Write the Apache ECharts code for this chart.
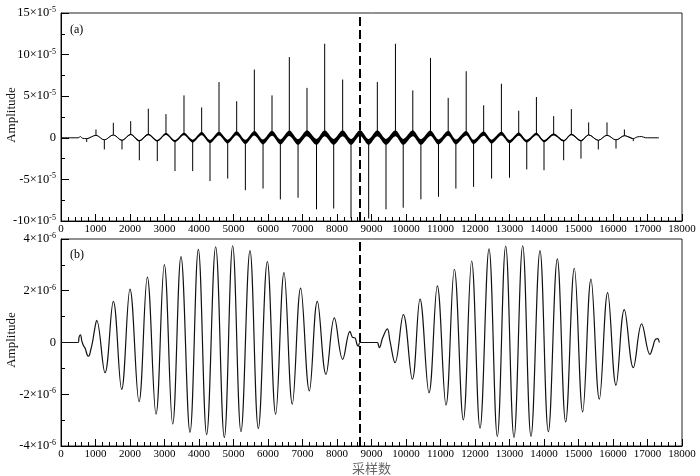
<!DOCTYPE html>
<html><head><meta charset="utf-8">
<script src="https://cdn.jsdelivr.net/npm/echarts@6/dist/echarts.min.js"></script>
<style>html,body{margin:0;padding:0;background:#fff}#c{width:700px;height:476px}</style>
</head><body><div id="c"></div>
<script>
// ---- axis ticks ----
const xTicks = [0,1000,2000,3000,4000,5000,6000,7000,8000,9000,10000,11000,12000,13000,14000,15000,16000,17000,18000];
const topYTicks = [-10,-5,0,5,10,15];   // ×10^-5
const botYTicks = [-4,-2,0,2,4];        // ×10^-6
const centerX = 8667;

// ---- panel (a): values in units of 1e-5 ----
const upX = [1014,1517,2020,2531,3043,3565,4077,4580,5092,5604,6116,6618,7130,7643,8164,9169,9694,10197,10710,11223,11745,12251,12765,13267,13780,14280,14793,15294,15826,16330];
const upSpike = [1.0,1.8,2.0,3.5,2.85,5.1,3.65,6.7,4.4,8.2,5.1,9.7,6.0,11.3,7.0,6.7,11.3,5.7,9.6,4.8,8.0,3.9,6.5,3.25,4.9,2.6,3.45,1.85,1.85,1.0];
const upBase = [0.3,0.35,0.4,0.4,0.45,0.45,0.5,0.5,0.55,0.55,0.55,0.55,0.55,0.55,0.55,0.55,0.55,0.55,0.55,0.55,0.55,0.5,0.5,0.45,0.45,0.4,0.4,0.35,0.3,0.25];
const upNoise = [0.02,0.03,0.05,0.1,0.12,0.15,0.2,0.22,0.25,0.28,0.3,0.32,0.35,0.35,0.35,0.35,0.35,0.35,0.32,0.3,0.28,0.25,0.22,0.2,0.15,0.12,0.1,0.05,0.03,0.02];
const downX = [745,1256,1768,2270,2791,3304,3817,4319,4832,5344,5856,6358,6871,7406,7904,8406,8918,9420,9919,10432,10942,11446,11959,12481,13000,13500,14000,14570,15072,15574,16087,16588];
const downSpike = [-0.5,-1.4,-1.4,-2.7,-2.8,-4.0,-4.0,-5.2,-4.9,-6.3,-6.1,-7.4,-7.2,-8.6,-8.5,-9.7,-9.7,-8.6,-8.4,-7.4,-7.1,-6.1,-5.9,-4.9,-4.8,-3.8,-3.9,-2.7,-2.5,-1.4,-1.3,-0.4];
const downBase = [-0.1,-0.25,-0.3,-0.35,-0.35,-0.4,-0.4,-0.45,-0.45,-0.5,-0.5,-0.5,-0.5,-0.5,-0.5,-0.5,-0.5,-0.5,-0.5,-0.5,-0.5,-0.5,-0.5,-0.45,-0.45,-0.4,-0.4,-0.35,-0.35,-0.3,-0.25,-0.1];
const downNoise = [0.02,0.02,0.04,0.08,0.1,0.13,0.17,0.2,0.23,0.26,0.3,0.3,0.33,0.35,0.35,0.35,0.35,0.35,0.35,0.33,0.3,0.3,0.26,0.23,0.2,0.17,0.13,0.1,0.08,0.04,0.02,0.02];
const centerBase = 0.6, centerNoise = 0.35;
const headX = [0,500,560,620];
const headY = [0,0,0.15,-0.05];
const tailX = [16700,16830,16950,17333];
const tailY = [0.1,0.15,0.0,0.0];

// ---- panel (b): values in units of 1e-6 ----
const waveX = [0,500,525,565,605,650,700,760,800,860,925,980,1034,1275,1517,1758,2000,2261,2502,2754,2995,3237,3478,3739,3981,4222,4483,4734,4976,5217,5478,5720,5981,6222,6464,6705,6946,7198,7430,7681,7923,8164,8377,8450,8522,8580,8618,8667,
  9169,9200,9227,9323,9459,9536,9681,9923,10184,10406,10667,10908,11159,11401,11662,11903,12145,12406,12647,12889,13130,13382,13623,13884,14126,14386,14628,14879,15121,15362,15604,15845,16087,16328,16589,16831,17072,17150,17217,17290,17343];
const waveY = [0,0,0.22,0.3,0.05,-0.12,-0.22,-0.48,-0.53,-0.3,0.1,0.55,0.86,-1.17,1.59,-1.81,2.06,-2.29,2.53,-2.77,3.01,-3.15,3.32,-3.47,3.6,-3.56,3.7,-3.67,3.74,-3.45,3.55,-3.32,3.13,-2.77,2.7,-2.38,2.1,-1.87,1.59,-1.23,0.95,-0.65,0.43,0.2,0.18,-0.08,-0.14,0,
  0,-0.1,-0.2,0.18,0.53,0.05,-0.78,1.08,-1.42,1.68,-1.94,2.19,-2.42,2.83,-2.99,3.15,-3.31,3.62,-3.63,3.73,-3.67,3.74,-3.63,3.55,-3.45,3.23,-3.07,2.87,-2.68,2.45,-2.19,1.93,-1.65,1.27,-0.97,0.72,-0.46,-0.2,0.1,0.15,0.0];

// ---- build panel (a) series from the arrays ----
const events = [];
upX.forEach((x,i)=>events.push({x, base: upBase[i], spike: upSpike[i], noise: upNoise[i]}));
downX.forEach((x,i)=>events.push({x, base: downBase[i], spike: downSpike[i], noise: downNoise[i]}));
events.push({x: centerX, base: centerBase, spike: null, noise: centerNoise});
events.sort((a,b)=>a.x-b.x);
const baseLine = [];
headX.forEach((x,i)=>baseLine.push([x, headY[i]]));
events.forEach(e=>baseLine.push([e.x, e.base]));
tailX.forEach((x,i)=>baseLine.push([x, tailY[i]]));
const spikeLine = [];
events.forEach(e=>{
  if (e.spike !== null) { spikeLine.push([e.x, e.base]); spikeLine.push([e.x, e.spike]); spikeLine.push([e.x, null]); }
});
const bandPts = events.map(e=>[e.x, e.base, e.noise]);

const waveData = waveX.map((x,i)=>[x, waveY[i]]);

const serif = 'Liberation Serif, Times New Roman, serif';
function yFmt(exp){
  return v => v === 0 ? '0' : '{n|' + v + '×10}{s|' + exp + '}';
}
function xAxisCfg(gi){
  return {
    gridIndex: gi, type: 'value', min: 0, max: 18000, interval: 1000,
    axisLine: {show: true, onZero: false, lineStyle: {color: '#000', width: 1}},
    axisTick: {show: true, inside: true, length: 7, lineStyle: {color: '#000'}},
    minorTick: {show: true, splitNumber: 5, length: 4, lineStyle: {color: '#000'}},
    splitLine: {show: false}, minorSplitLine: {show: false},
    axisLabel: {fontFamily: serif, fontSize: 11, color: '#000', margin: 3, hideOverlap: false,
      showMinLabel: true, showMaxLabel: true, formatter: v => String(v)},
    name: gi === 1 ? '采样数' : '', nameLocation: 'middle', nameGap: 16,
    nameTextStyle: {fontFamily: 'Noto Sans CJK SC', fontSize: 13, color: '#666', verticalAlign: 'top'}
  };
}
function yAxisCfg(gi, min, max, interval, exp){
  return {
    gridIndex: gi, type: 'value', min, max, interval,
    axisLine: {show: true, onZero: false, lineStyle: {color: '#000'}},
    axisTick: {show: true, inside: true, length: 8, lineStyle: {color: '#000'}},
    minorTick: {show: true, splitNumber: 2, length: 4, lineStyle: {color: '#000'}},
    splitLine: {show: false}, minorSplitLine: {show: false},
    axisLabel: {margin: 5, color: '#000', fontFamily: serif, fontSize: 12.5, formatter: yFmt(exp),
      rich: {
        n: {fontFamily: serif, fontSize: 12.5, color: '#000', lineHeight: 14},
        s: {fontFamily: serif, fontSize: 8, color: '#000', lineHeight: 8, verticalAlign: 'top'}
      }}
  };
}
const dashLine = {
  silent: true, symbol: 'none', label: {show: false},
  lineStyle: {type: [9,4], color: '#000', width: 2},
  data: [{xAxis: centerX}], animation: false
};

const chart = echarts.init(document.getElementById('c'), null, {renderer: 'canvas'});
chart.setOption({
  animation: false,
  backgroundColor: '#fff',
  grid: [
    {left: 61, width: 621, top: 13, height: 208, show: true, borderColor: '#222', borderWidth: 1, backgroundColor: 'transparent'},
    {left: 61, width: 621, top: 239, height: 208, show: true, borderColor: '#222', borderWidth: 1, backgroundColor: 'transparent'}
  ],
  xAxis: [xAxisCfg(0), xAxisCfg(1)],
  yAxis: [yAxisCfg(0, -10, 15, 5, '-5'), yAxisCfg(1, -4, 4, 2, '-6')],
  graphic: [
    {type: 'text', x: 70, y: 30, style: {text: '(a)', font: '12px ' + serif, fill: '#000', align: 'left', verticalAlign: 'middle', textAlign: 'left', textVerticalAlign: 'middle'}},
    {type: 'text', x: 70, y: 255, style: {text: '(b)', font: '12px ' + serif, fill: '#000', align: 'left', verticalAlign: 'middle', textAlign: 'left', textVerticalAlign: 'middle'}},
    {type: 'text', x: 12, y: 115, rotation: Math.PI/2, style: {text: 'Amplitude', font: '13px ' + serif, fill: '#111', align: 'center', verticalAlign: 'middle', textAlign: 'center', textVerticalAlign: 'middle'}},
    {type: 'text', x: 12, y: 340, rotation: Math.PI/2, style: {text: 'Amplitude', font: '13px ' + serif, fill: '#111', align: 'center', verticalAlign: 'middle', textAlign: 'center', textVerticalAlign: 'middle'}}
  ],
  series: [
    {
      type: 'custom', xAxisIndex: 0, yAxisIndex: 0, silent: true,
      data: [[centerX, 0]],
      renderItem: function(params, api){
        const upper = bandPts.map(p => api.coord([p[0], p[1] + p[2]]));
        const lower = bandPts.slice().reverse().map(p => api.coord([p[0], p[1] - p[2]]));
        return {type: 'polygon', shape: {points: upper.concat(lower), smooth: 0.3}, style: {fill: '#000'}};
      }
    },
    {
      type: 'line', xAxisIndex: 0, yAxisIndex: 0, data: baseLine, smooth: 0.35,
      showSymbol: false, symbol: 'none', lineStyle: {color: '#000', width: 1}, silent: true,
      markLine: dashLine
    },
    {
      type: 'line', xAxisIndex: 0, yAxisIndex: 0, data: spikeLine, connectNulls: false,
      showSymbol: false, symbol: 'none', lineStyle: {color: '#000', width: 1}, silent: true
    },
    {
      type: 'line', xAxisIndex: 1, yAxisIndex: 1, data: waveData,
      showSymbol: false, symbol: 'none', smooth: 0.4, lineStyle: {color: '#111', width: 1.2}, silent: true,
      markLine: dashLine
    }
  ]
});
</script>
</body></html>
